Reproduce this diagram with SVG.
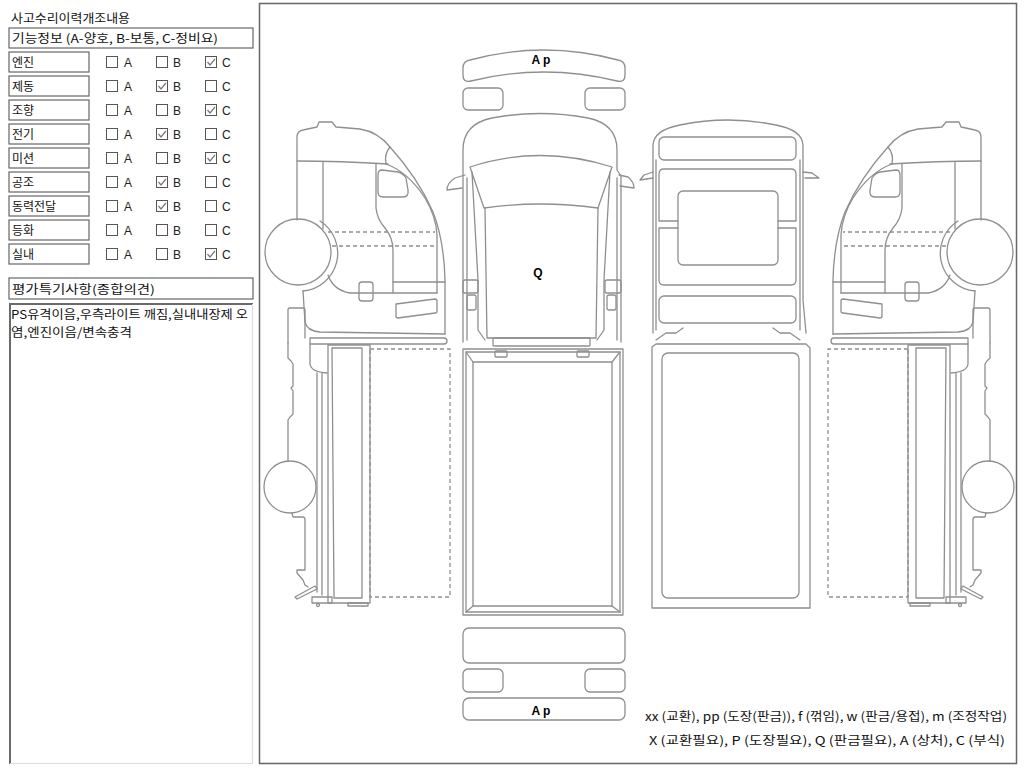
<svg xmlns="http://www.w3.org/2000/svg" xmlns:xlink="http://www.w3.org/1999/xlink" width="1024" height="768" viewBox="0 0 1024 768">
<style>
.ln{fill:none;stroke:#8f8f8f;stroke-width:1.3;stroke-linejoin:round;stroke-linecap:round}
.dash{stroke-dasharray:4 3;stroke-linecap:butt}
.bx{fill:#fff;stroke:#666;stroke-width:1.2}
.t{font-family:"Noto Sans CJK KR","Noto Sans",sans-serif;font-size:12px;fill:#111}
.abc{font-family:"Liberation Sans",Arial,sans-serif;font-size:12px;fill:#222}
.cb{fill:#fff;stroke:#555;stroke-width:1}
.ck{fill:none;stroke:#777;stroke-width:1.2}
.lb{font-family:"Liberation Sans",Arial,sans-serif;font-size:12px;font-weight:bold;fill:#000}
</style>
<defs>
<g id="sideView" class="ln">
  <path d="M297,220 V137 Q297,131 303,130 L317,127 L319,122 L332,122 L336,127 L360,129 Q378,132 390,147 Q418,178 433,212 Q444,240 445,280 V334"/>
  <path d="M297,161 Q340,161 388,164"/>
  <path d="M390,147 Q384,154 386,164"/>
  <path d="M386,164 Q408,172 425,198 Q436,216 437,235 V293"/>
  <path d="M323,162 V229"/>
  <path d="M376,164 V208 Q377,219 385,228 Q393,238 393,250 V293"/>
  <path d="M382,170 L398,172 Q403,173 406,178 L408,190 Q409,197 403,197 H383 Q378,197 378,192 V175 Q378,170 382,170 Z"/>
  <path class="ln dash" d="M328,232 H435 M332,246 H436"/>
  <path d="M328,275 Q333,290 350,293 H437"/>
  <rect x="359" y="282" width="14" height="19" rx="3"/>
  <path d="M393,282 H445"/>
  <path d="M396,304 L435,299 Q437,299 437,301 V311 Q437,313 435,313 L398,318 Q396,318 396,316 Z"/>
  <path d="M303,291 L305,322 Q307,331 320,332 L445,334"/>
  <circle cx="298" cy="252" r="33"/>
  <path d="M320,221 A38,38 0 0 1 303,291"/>
  <path d="M310,338 H444 Q447,338 447,341 Q447,344 444,344 H310 Z"/>
  <path d="M288,343 V310 Q288,308 290,308 H303 Q305,308 305,310 V338"/>
  <path d="M288,343 V358 L291,361 L293,364 V386 L291,388 L293,391 V414 L290,417 L288,420 V461"/>
  <circle cx="290" cy="487" r="26"/>
  <path d="M292,513 L293,517 H303 Q305,517 305,520 V570 H297 V573 L303,580 L305,585 L308,587"/>
  <path d="M310,344 V364 Q311,372 327,373"/>
  <path d="M317,373 V592 M322,373 V595"/>
  <path d="M295,597 L315,586 L317,589 L297,599 Z"/>
  <rect x="312" y="597" width="20" height="6"/>
  <circle cx="318" cy="605" r="1.5"/>
  <rect x="328" y="345" width="42" height="258"/>
  <path d="M332,348 H362 L362,598 H334 Z"/>
  <rect x="348" y="603" width="20" height="3"/>
  <rect class="ln dash" x="370" y="349" width="80" height="248"/>
</g>
</defs>
<rect width="1024" height="768" fill="#fff"/>

<g id="left-panel">
  <text class="t" x="11" y="23" textLength="119" lengthAdjust="spacingAndGlyphs">사고수리이력개조내용</text>
  <g id="func-header"><rect class="bx" x="9" y="28" width="244" height="20"/><text class="t" x="12" y="43" textLength="206" lengthAdjust="spacingAndGlyphs">기능정보 (A-양호, B-보통, C-정비요)</text></g>

  <g id="row-engine"><rect class="bx" x="9" y="52" width="80" height="20"/><text class="t" x="12" y="67">엔진</text>
    <rect class="cb" x="106.5" y="56.5" width="11" height="11"/><text class="abc" x="124" y="67">A</text>
    <rect class="cb" x="156.5" y="56.5" width="11" height="11"/><text class="abc" x="173" y="67">B</text>
    <rect class="cb" x="205.5" y="56.5" width="11" height="11"/><text class="abc" x="222" y="67">C</text>
    <path class="ck" d="M207.5,62 L210,65 L215,59"/></g>
  <g id="row-brake"><rect class="bx" x="9" y="76" width="80" height="20"/><text class="t" x="12" y="91">제동</text>
    <rect class="cb" x="106.5" y="80.5" width="11" height="11"/><text class="abc" x="124" y="91">A</text>
    <rect class="cb" x="156.5" y="80.5" width="11" height="11"/><text class="abc" x="173" y="91">B</text>
    <rect class="cb" x="205.5" y="80.5" width="11" height="11"/><text class="abc" x="222" y="91">C</text>
    <path class="ck" d="M158.5,86 L161,89 L166,83"/></g>
  <g id="row-steer"><rect class="bx" x="9" y="100" width="80" height="20"/><text class="t" x="12" y="115">조향</text>
    <rect class="cb" x="106.5" y="104.5" width="11" height="11"/><text class="abc" x="124" y="115">A</text>
    <rect class="cb" x="156.5" y="104.5" width="11" height="11"/><text class="abc" x="173" y="115">B</text>
    <rect class="cb" x="205.5" y="104.5" width="11" height="11"/><text class="abc" x="222" y="115">C</text>
    <path class="ck" d="M207.5,110 L210,113 L215,107"/></g>
  <g id="row-elec"><rect class="bx" x="9" y="124" width="80" height="20"/><text class="t" x="12" y="139">전기</text>
    <rect class="cb" x="106.5" y="128.5" width="11" height="11"/><text class="abc" x="124" y="139">A</text>
    <rect class="cb" x="156.5" y="128.5" width="11" height="11"/><text class="abc" x="173" y="139">B</text>
    <rect class="cb" x="205.5" y="128.5" width="11" height="11"/><text class="abc" x="222" y="139">C</text>
    <path class="ck" d="M158.5,134 L161,137 L166,131"/></g>
  <g id="row-trans"><rect class="bx" x="9" y="148" width="80" height="20"/><text class="t" x="12" y="163">미션</text>
    <rect class="cb" x="106.5" y="152.5" width="11" height="11"/><text class="abc" x="124" y="163">A</text>
    <rect class="cb" x="156.5" y="152.5" width="11" height="11"/><text class="abc" x="173" y="163">B</text>
    <rect class="cb" x="205.5" y="152.5" width="11" height="11"/><text class="abc" x="222" y="163">C</text>
    <path class="ck" d="M207.5,158 L210,161 L215,155"/></g>
  <g id="row-aircon"><rect class="bx" x="9" y="172" width="80" height="20"/><text class="t" x="12" y="187">공조</text>
    <rect class="cb" x="106.5" y="176.5" width="11" height="11"/><text class="abc" x="124" y="187">A</text>
    <rect class="cb" x="156.5" y="176.5" width="11" height="11"/><text class="abc" x="173" y="187">B</text>
    <rect class="cb" x="205.5" y="176.5" width="11" height="11"/><text class="abc" x="222" y="187">C</text>
    <path class="ck" d="M158.5,182 L161,185 L166,179"/></g>
  <g id="row-drive"><rect class="bx" x="9" y="196" width="80" height="20"/><text class="t" x="12" y="211">동력전달</text>
    <rect class="cb" x="106.5" y="200.5" width="11" height="11"/><text class="abc" x="124" y="211">A</text>
    <rect class="cb" x="156.5" y="200.5" width="11" height="11"/><text class="abc" x="173" y="211">B</text>
    <rect class="cb" x="205.5" y="200.5" width="11" height="11"/><text class="abc" x="222" y="211">C</text>
    <path class="ck" d="M158.5,206 L161,209 L166,203"/></g>
  <g id="row-light"><rect class="bx" x="9" y="220" width="80" height="20"/><text class="t" x="12" y="235">등화</text>
    <rect class="cb" x="106.5" y="224.5" width="11" height="11"/><text class="abc" x="124" y="235">A</text>
    <rect class="cb" x="156.5" y="224.5" width="11" height="11"/><text class="abc" x="173" y="235">B</text>
    <rect class="cb" x="205.5" y="224.5" width="11" height="11"/><text class="abc" x="222" y="235">C</text></g>
  <g id="row-interior"><rect class="bx" x="9" y="244" width="80" height="20"/><text class="t" x="12" y="259">실내</text>
    <rect class="cb" x="106.5" y="248.5" width="11" height="11"/><text class="abc" x="124" y="259">A</text>
    <rect class="cb" x="156.5" y="248.5" width="11" height="11"/><text class="abc" x="173" y="259">B</text>
    <rect class="cb" x="205.5" y="248.5" width="11" height="11"/><text class="abc" x="222" y="259">C</text>
    <path class="ck" d="M207.5,254 L210,257 L215,251"/></g>

  <g id="opinion-header"><rect class="bx" x="9" y="278" width="244" height="21"/><text class="t" x="12" y="294" textLength="143" lengthAdjust="spacingAndGlyphs">평가특기사항(종합의견)</text></g>
  <g id="opinion-text">
    <rect x="9" y="303" width="244" height="461" fill="#fff"/>
    <path d="M10,764 V304 H253" fill="none" stroke="#6a6a6a" stroke-width="2"/>
    <path d="M10,763.5 H252.5 V304" fill="none" stroke="#dcdcdc" stroke-width="1.2"/>
    <text class="t" x="11" y="319" textLength="237" lengthAdjust="spacingAndGlyphs">PS유격이음,우측라이트 깨짐,실내내장제 오</text>
    <text class="t" x="11" y="337" textLength="121" lengthAdjust="spacingAndGlyphs">염,엔진이음/변속충격</text>
  </g>
</g>

<g id="diagram-frame"><rect x="259.5" y="3.5" width="757" height="760" fill="#fff" stroke="#666" stroke-width="1.5"/></g>

<g id="front-bumper" class="ln">
  <path d="M463,68 Q463,61 470,60 Q544,40 618,60 Q625,61 625,68 V75 Q625,83 617,81 Q544,63 471,81 Q463,83 463,75 Z"/>
  <text class="lb" x="541" y="64" text-anchor="middle" stroke="none">A p</text>
  <rect x="463" y="88" width="40" height="22" rx="5"/>
  <rect x="585" y="88" width="40" height="22" rx="5"/>
</g>

<g id="top-cab" class="ln">
  <path d="M463,342 V150 Q463,124 492,118 Q540,109 588,118 Q617,124 617,150 V170 L621,176 V342"/>
  <path d="M467,178 V340 M617,178 V340"/>
  <path d="M470,167 Q540,144 612,167 L598,208 Q540,200 484,208 Z"/>
  <path d="M472,172 L478,280 V330 L485,340 M610,172 L604,280 V330 L597,340"/>
  <path d="M485,208 L487,338 H596 L598,208"/>
  <rect x="463" y="280" width="15" height="13" rx="2"/>
  <rect x="467" y="295" width="9" height="15" rx="2"/>
  <rect x="605" y="280" width="16" height="13" rx="2"/>
  <rect x="607" y="295" width="9" height="15" rx="2"/>
  <path d="M465,175 L455,178 Q447,183 447,190 L462,188"/>
  <path d="M619,175 L628,177 Q634,182 634,188 L620,186"/>
  <rect x="493" y="338" width="97" height="8" rx="1"/>
  <text class="lb" x="538" y="277" text-anchor="middle" stroke="none">Q</text>
</g>

<g id="top-box" class="ln">
  <rect x="495" y="351" width="12" height="6" rx="1"/>
  <rect x="577" y="351" width="12" height="6" rx="1"/>
  <rect x="463" y="349" width="160" height="266"/>
  <rect x="466" y="352" width="154" height="260"/>
  <rect x="473" y="362" width="139" height="244"/>
  <path d="M466,352 L473,362 M620,352 L612,362 M466,612 L473,606 M620,612 L612,606"/>
</g>

<g id="rear-bumper" class="ln">
  <rect x="463" y="628" width="162" height="35" rx="6"/>
  <rect x="463" y="669" width="40" height="23" rx="5"/>
  <rect x="585" y="669" width="40" height="23" rx="5"/>
  <rect x="463" y="698" width="162" height="22" rx="6"/>
  <text class="lb" x="541" y="715" text-anchor="middle" stroke="none">A p</text>
</g>

<g id="rear-cab" class="ln">
  <path d="M653,333 V145 Q654,130 680,125 Q728,115 776,125 Q802,130 803,145 V300 L806,333"/>
  <path d="M656,160 V330 M800,160 V330"/>
  <path d="M653,172 L644,175 L640,180 L653,178"/>
  <path d="M803,172 L812,173 L819,178 L805,178"/>
  <rect x="659" y="137" width="137" height="23" rx="5"/>
  <path d="M678,221 H659 V174 Q659,169 664,169 H791 Q796,169 796,174 V221 H778"/>
  <path d="M678,228 H659 V280 Q659,285 664,285 H791 Q796,285 796,280 V228 H778"/>
  <rect x="678" y="191" width="100" height="74" rx="5"/>
  <rect x="659" y="296" width="137" height="27" rx="5"/>
  <path d="M656,340 L666,333 L676,333 L683,328 M800,340 L790,333 L780,333 L773,328"/>
</g>

<g id="rear-box" class="ln">
  <path d="M656,344 L652,347 V608 H810 V348 L806,344 Z"/>
  <rect x="662" y="353" width="137" height="245" rx="6"/>
</g>

<g id="side-left"><use href="#sideView" xlink:href="#sideView"/></g>
<g id="side-right" transform="translate(1278,0) scale(-1,1)"><use href="#sideView" xlink:href="#sideView"/></g>

<g id="legend">
  <text class="t" x="645" y="721" textLength="362" lengthAdjust="spacingAndGlyphs">xx (교환), pp (도장(판금)), f (꺾임), w (판금/용접), m (조정작업)</text>
  <text class="t" x="649" y="745" textLength="356" lengthAdjust="spacingAndGlyphs">X (교환필요), P (도장필요), Q (판금필요), A (상처), C (부식)</text>
</g>
</svg>
